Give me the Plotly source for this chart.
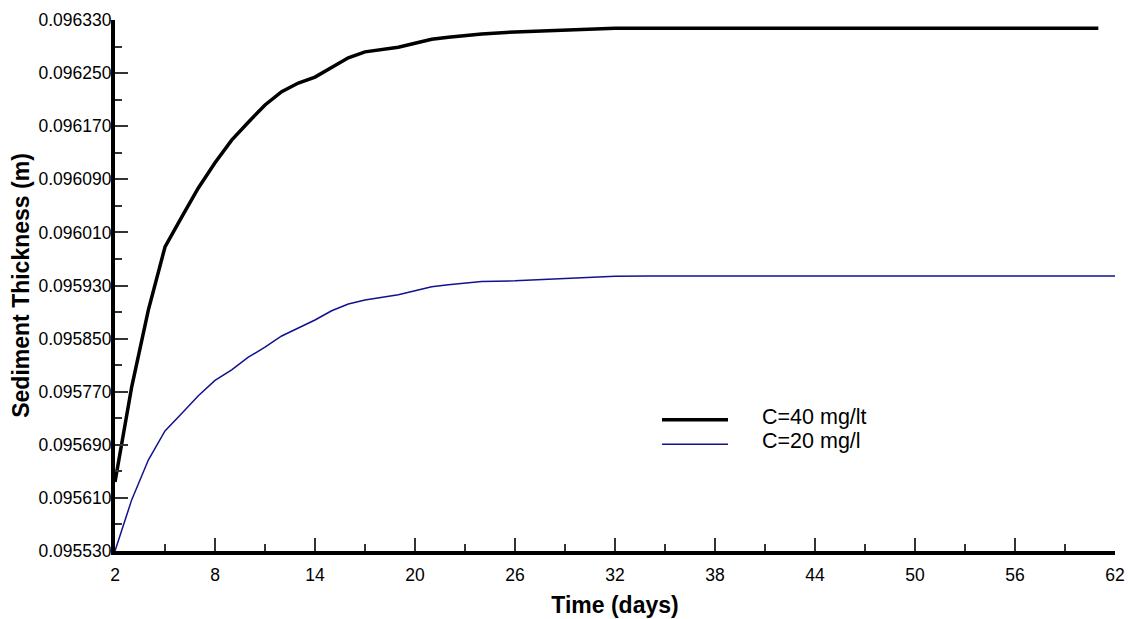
import plotly.graph_objects as go

# Simulated sediment thickness (m) over time for two inflow concentrations
days_40 = [2, 3, 4, 5, 6, 7, 8, 9, 10, 11, 12, 13, 14, 15, 16, 17, 18, 19, 20,
           21, 22, 23, 24, 26, 28, 30, 32, 61]
thick_40 = [0.095634, 0.095777, 0.095893, 0.095988, 0.096033, 0.096077, 0.096115,
            0.096149, 0.096176, 0.096202, 0.096222, 0.096235, 0.096244, 0.096259,
            0.096273, 0.096282, 0.096285, 0.096289, 0.096295, 0.096301, 0.096304,
            0.096307, 0.096309, 0.096312, 0.096314, 0.096316, 0.0963175, 0.0963175]

days_20 = [2, 3, 4, 5, 6, 7, 8, 9, 10, 11, 12, 13, 14, 15, 16, 17, 18, 19, 20,
           21, 22, 23, 24, 26, 28, 30, 32, 34, 62]
thick_20 = [0.095530, 0.095607, 0.095667, 0.095711, 0.095737, 0.095764, 0.095787,
            0.095803, 0.095822, 0.095837, 0.095854, 0.095866, 0.095878, 0.095892,
            0.095902, 0.095908, 0.095912, 0.095916, 0.095922, 0.095928, 0.095931,
            0.095934, 0.095936, 0.095937, 0.095939, 0.095942, 0.095944, 0.0959445,
            0.0959445]

series_names = ["C=40 mg/lt", "C=20 mg/l"]
series_colors = ["#000000", "#12128f"]
series_widths = [3.5, 1.5]

x_ticks = [2, 8, 14, 20, 26, 32, 38, 44, 50, 56, 62]
y_ticks = [0.09553, 0.09561, 0.09569, 0.09577, 0.09585, 0.09593,
           0.09601, 0.09609, 0.09617, 0.09625, 0.09633]

FONT = "Liberation Sans, Arial, sans-serif"

fig = go.Figure()
for xs, ys, name, col, w in zip([days_40, days_20], [thick_40, thick_20],
                                series_names, series_colors, series_widths):
    fig.add_trace(go.Scatter(x=xs, y=ys, mode="lines", name=name,
                             line=dict(color=col, width=w), showlegend=False))

# Legend keys drawn as short line samples with text labels
legend_y = [0.247, 0.201]
for name, col, w, ly in zip(series_names, series_colors, series_widths, legend_y):
    fig.add_shape(type="line", xref="paper", yref="paper",
                  x0=0.547, x1=0.613, y0=ly, y1=ly,
                  line=dict(color=col, width=w))
    fig.add_annotation(xref="paper", yref="paper", x=0.645, y=ly + 0.006,
                       text=name, showarrow=False, xanchor="left", yanchor="middle",
                       font=dict(family=FONT, size=21.5, color="#000000"))

axis_common = dict(
    showline=True, linewidth=4, linecolor="#000000", mirror=False,
    showgrid=False, zeroline=False, automargin=False,
    ticks="inside", ticklen=13, tickwidth=1.5, tickcolor="#333333",
    tickfont=dict(family=FONT, size=17.5, color="#000000"),
)

fig.update_xaxes(
    range=[2, 62], tickvals=x_ticks, ticktext=[str(t) for t in x_ticks],
    ticklabelstandoff=5,
    minor=dict(ticks="inside", ticklen=7, tickwidth=1.5, tickcolor="#333333", dtick=3, tick0=2),
    title=dict(text="<b>Time (days)</b>", font=dict(family=FONT, size=23, color="#000000"),
               standoff=14),
    **axis_common,
)
fig.update_yaxes(
    range=[0.09553, 0.09633], tickvals=y_ticks, ticktext=[f"{v:.6f}" for v in y_ticks],
    ticklabelstandoff=-4,
    minor=dict(ticks="inside", ticklen=7, tickwidth=1.5, tickcolor="#333333",
               dtick=0.00004, tick0=0.09553),
    title=dict(text="<b>Sediment Thickness (m)</b>", font=dict(family=FONT, size=23, color="#000000"),
               standoff=3),
    **axis_common,
)

fig.update_layout(
    width=1130, height=619,
    margin=dict(l=115, r=15, t=20, b=68),
    paper_bgcolor="#ffffff", plot_bgcolor="#ffffff",
    font=dict(family=FONT, color="#000000"),
)

fig.write_html("out.html")
